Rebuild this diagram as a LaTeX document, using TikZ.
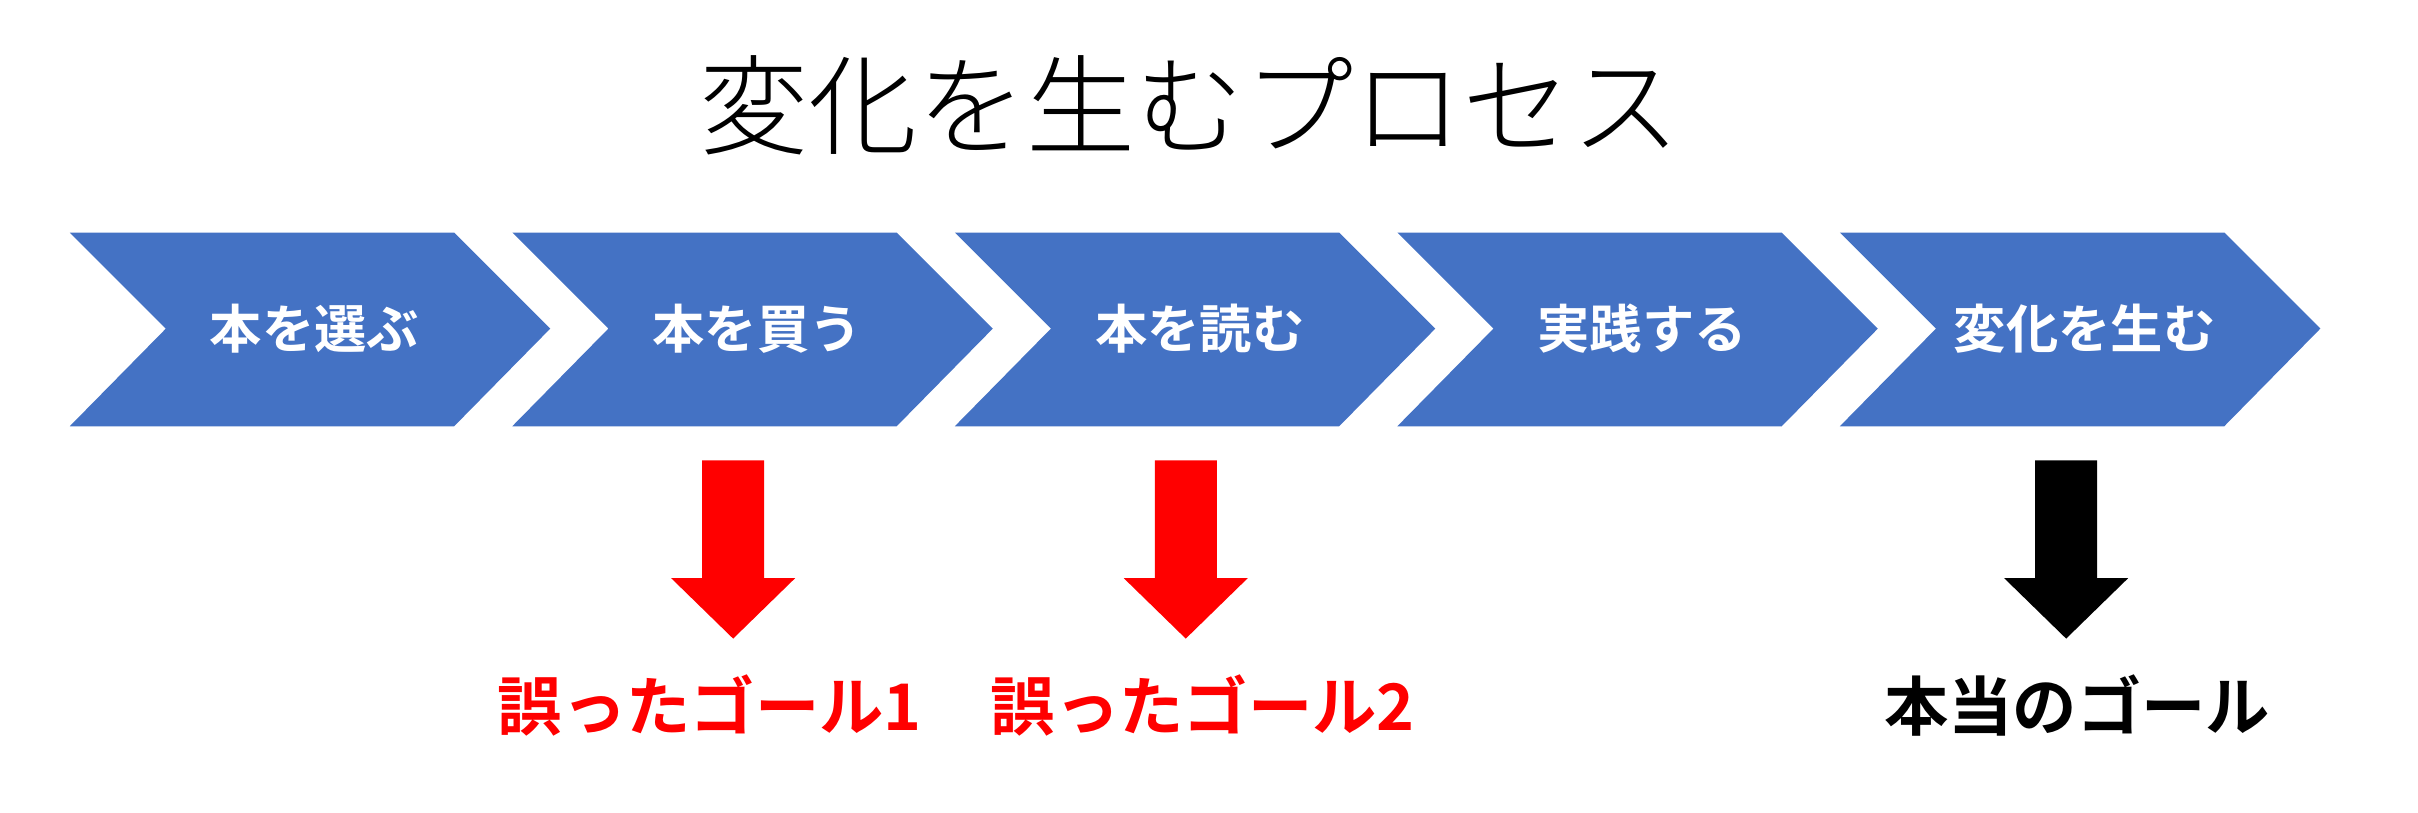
\documentclass[tikz,border=0pt]{standalone}
\usepackage{fontspec}
\usepackage{xcolor}
\newfontfamily\jpfont{Noto Sans CJK JP}
\newfontfamily\jplight{Noto Sans CJK JP Light}
\newfontfamily\jpbold{Noto Sans CJK JP Bold}
\definecolor{stepblue}{RGB}{68,114,196}
\tikzset{
  chevron/.style={fill=stepblue},
  steplabel/.style={text=white,font=\jpbold\fontsize{9.6pt}{11pt}\selectfont},
  goallabel/.style={font=\jpbold\fontsize{11.8pt}{14pt}\selectfont},
}
\begin{document}
\begin{tikzpicture}[x=0.01cm,y=-0.01cm]
        \useasboundingbox (0,0) rectangle (1560,524);
        % title
        \node (title) at (768,68) {\jplight\fontsize{20pt}{24pt}\selectfont 変化を生むプロセス};
        % chevrons
        \foreach \i/\txt in {0/本を選ぶ,1/本を買う,2/本を読む,3/実践する,4/変化を生む} {
            \pgfmathsetmacro{\xl}{45+285.5*\i}
            \fill[chevron] (\xl,150) -- (\xl+248,150) -- (\xl+310,212) -- (\xl+248,275)
                -- (\xl,275) -- (\xl+62,212) -- cycle;
            \node[steplabel] (step\i) at (\xl+158,212) {\txt};
        }
        % block arrows
        \foreach \cx/\col/\name in {473/red/a, 765/red/b, 1333/black/c} {
            \fill[\col] (\cx-20,297) -- (\cx+20,297) -- (\cx+20,373) -- (\cx+40,373)
                -- (\cx,412) -- (\cx-40,373) -- (\cx-20,373) -- cycle;
        }
        % goals
        \node[goallabel,text=red] (goal1) at (458,455) {誤ったゴール1};
        \node[goallabel,text=red] (goal2) at (776,455) {誤ったゴール2};
        \node[goallabel] (goal3) at (1340,455) {本当のゴール};
\end{tikzpicture}
\end{document}
